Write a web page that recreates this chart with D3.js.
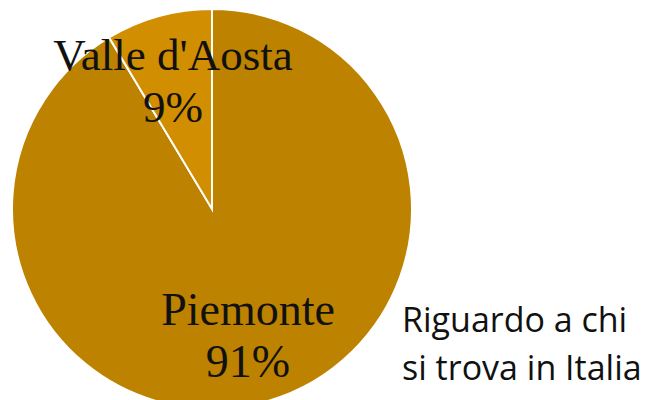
<!DOCTYPE html>
<html>
<head>
<meta charset="utf-8">
<script src="https://cdn.jsdelivr.net/npm/d3@7"></script>
<style>
  body { margin: 0; background: #fff; }
  svg { display: block; }
</style>
</head>
<body>
<div id="chart"></div>
<script>
var regions = ["Piemonte", "Valle d'Aosta"];
var shares = [91.4, 8.6];
var colors = ["#bc8200", "#d18e00"];
var note = ["Riguardo a chi", "si trova in Italia"];

var width = 648;
var height = 400;
var radius = 200;
var cx = 212, cy = 209;

var svg = d3.select("#chart")
            .append("svg")
            .attr("width", width)
            .attr("height", height);

var data = regions.map(function(r, i) { return { region: r, value: shares[i] }; });

var pie = d3.pie()
            .sort(null)
            .value(function(d) { return d.value; });

var arc = d3.arc()
            .innerRadius(0)
            .outerRadius(radius);

var g = svg.append("g")
           .attr("transform", "translate(" + cx + "," + cy + ")");

var arcs = pie(data);

g.selectAll("path")
 .data(arcs)
 .enter()
 .append("path")
 .attr("d", arc)
 .attr("fill", function(d, i) { return colors[i]; })
 .attr("stroke", "#fff")
 .attr("stroke-width", 2);

// label positions, picked by eye
var labelPos = [ [36, 116], [-39, -139] ];

var labels = g.selectAll(".lbl")
  .data(arcs)
  .enter()
  .append("text")
  .classed("lbl", true)
  .attr("font-family", "'Liberation Serif', serif")
  .attr("font-size", function(d, i) { return i == 0 ? 46 : 45; })
  .attr("fill", "#111")
  .attr("text-anchor", "middle")
  .attr("transform", function(d, i) { return "translate(" + labelPos[i][0] + "," + labelPos[i][1] + ")"; });

labels.append("tspan")
  .attr("x", 0)
  .attr("y", 0)
  .text(function(d) { return d.data.region; });

labels.append("tspan")
  .attr("x", 0)
  .attr("y", 52)
  .text(function(d) { return Math.round(d.data.value) + "%"; });

svg.append("text")
   .attr("font-family", "'Open Sans', sans-serif")
   .attr("font-size", 34)
   .attr("fill", "#111")
   .selectAll("tspan")
   .data(note)
   .enter()
   .append("tspan")
   .attr("x", 402)
   .attr("y", function(d, i) { return 332 + i * 48; })
   .text(function(d) { return d; });
</script>
</body>
</html>
